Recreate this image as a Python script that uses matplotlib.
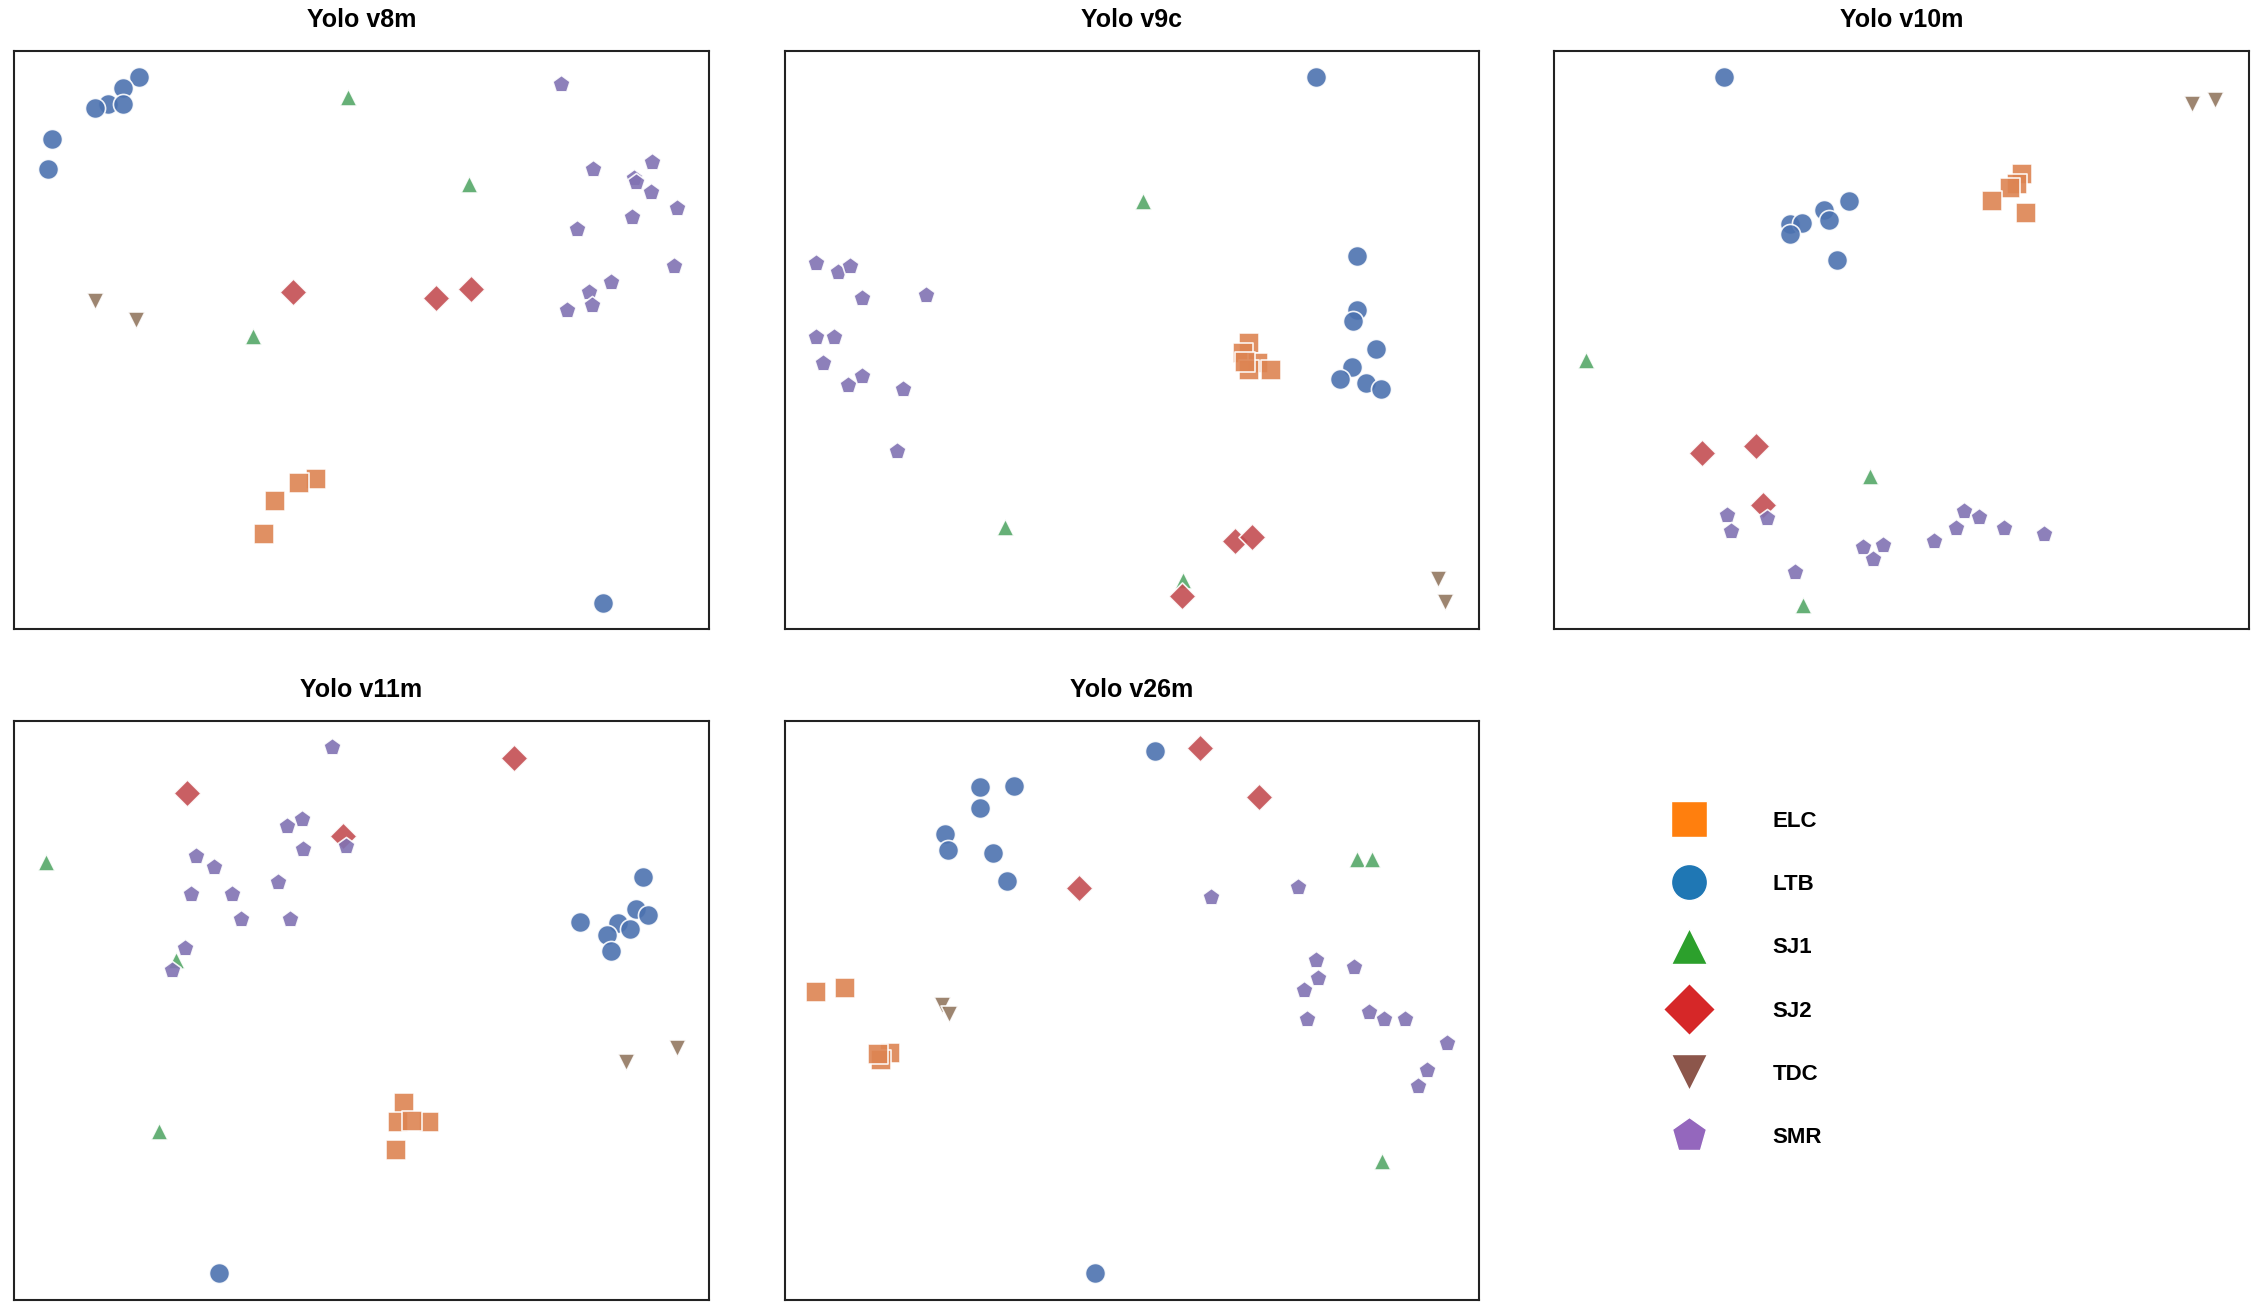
import matplotlib.pyplot as plt
from matplotlib.lines import Line2D

CLASSES = ["ELC", "LTB", "SJ1", "SJ2", "TDC", "SMR"]
MARKERS = {"ELC": "s", "LTB": "o", "SJ1": "^", "SJ2": "D", "TDC": "v", "SMR": "p"}
# muted colours for the points, bright ones for the legend
COLORS = {"ELC": "#DD8452", "LTB": "#4C72B0", "SJ1": "#55A868",
          "SJ2": "#C44E52", "TDC": "#937860", "SMR": "#8172B3"}
LEG_COLORS = {"ELC": "#ff7f0e", "LTB": "#1f77b4", "SJ1": "#2ca02c",
              "SJ2": "#d62728", "TDC": "#8c564b", "SMR": "#9467bd"}
SIZES = {"ELC": 190, "LTB": 210, "SJ1": 150, "SJ2": 190, "TDC": 150, "SMR": 170}

# embedding coordinates (0-100 per panel)
v8m = {
    "LTB": ([17.9, 15.6, 13.5, 11.6, 15.6, 5.4, 4.8, 84.8], [95.5, 93.5, 90.75, 90, 90.75, 84.75, 79.5, 4.5]),
    "SJ1": ([48, 65.5, 34.3], [92, 77, 50.75]),
    "SJ2": ([40.1, 60.7, 65.7], [58.25, 57.25, 58.75]),
    "TDC": ([11.6, 17.5], [56.75, 53.5]),
    "ELC": ([43.5, 41, 37.6, 36], [26, 25.25, 22.25, 16.5]),
    "SMR": ([78.8, 83.4, 91.9, 89.2, 89.6, 91.7, 95.4, 88.9, 81.1, 95, 85.9, 82.7, 79.6, 83.2],
            [94.25, 79.5, 80.75, 78, 77.25, 75.5, 72.75, 71.25, 69.25, 62.75, 60, 58.25, 55.25, 56]),
}
v9c = {
    "LTB": ([76.5, 82.5, 82.5, 81.9, 85.2, 81.7, 80, 83.8, 85.9], [95.5, 64.5, 55.25, 53.25, 48.5, 45.25, 43.25, 42.5, 41.5]),
    "SJ1": ([51.6, 31.8, 57.4], [74, 17.75, 8.5]),
    "SJ2": ([64.9, 67.4, 57.2], [15.25, 16, 5.75]),
    "TDC": ([94.2, 95.2], [8.75, 4.75]),
    "ELC": ([66.9, 66.1, 68.2, 70.1, 66.9, 66.3], [49.5, 47.75, 46, 44.75, 44.75, 46.25]),
    "SMR": ([4.6, 7.7, 9.4, 11.2, 20.4, 4.6, 7.1, 5.6, 9.1, 11.2, 17, 16.2],
            [63.25, 61.75, 62.75, 57.25, 57.75, 50.5, 50.5, 46, 42.25, 43.75, 41.5, 30.75]),
}
v10m = {
    "LTB": ([24.5, 33.9, 35.6, 33.9, 38.9, 39.5, 42.4, 40.7], [95.5, 70, 70.25, 68.25, 72.5, 70.75, 74, 63.75]),
    "SJ1": ([4.6, 45.5, 35.8], [46.5, 26.5, 4.25]),
    "SJ2": ([21.2, 29.1, 30.1], [30.5, 31.75, 21.5]),
    "TDC": ([91.9, 95.2], [90.75, 91.5]),
    "ELC": ([67.4, 66.7, 65.7, 63, 68], [78.75, 77, 76.25, 74, 72]),
    "SMR": ([24.9, 25.4, 30.6, 34.7, 44.5, 45.9, 47.4, 54.7, 57.8, 59, 61.1, 64.7, 70.5],
            [19.75, 17, 19.25, 10, 14.25, 12.25, 14.5, 15.25, 17.5, 20.5, 19.5, 17.5, 16.5]),
}
v11m = {
    "LTB": ([90.6, 89.6, 91.3, 81.5, 86.9, 88.7, 85.4, 85.9, 29.5], [73, 67.5, 66.5, 65.3, 65, 64, 63, 60.3, 4.5]),
    "SJ1": ([4.6, 23.3, 20.8], [75.6, 58.6, 29.2]),
    "SJ2": ([24.9, 71.9, 47.4], [87.5, 93.5, 80]),
    "TDC": ([88.1, 95.4], [41.1, 43.4]),
    "ELC": ([56.1, 55.3, 59.7, 54.9, 57.2], [33.9, 30.7, 30.7, 25.9, 30.9]),
    "SMR": ([45.7, 41.4, 39.3, 47.8, 41.6, 26.2, 28.7, 31.4, 25.4, 38, 32.6, 39.7, 24.5, 22.7],
            [95.5, 83, 81.8, 78.3, 77.8, 76.6, 74.8, 70.1, 70.1, 72.1, 65.8, 65.8, 60.8, 56.9]),
}
v26m = {
    "LTB": ([53.4, 28.1, 33.1, 28.1, 23.1, 23.5, 30.1, 32, 44.7], [94.8, 88.5, 88.8, 85, 80.5, 77.6, 77.1, 72.3, 4.5]),
    "SJ1": ([82.5, 84.6, 86.1], [76.1, 76.1, 23.9]),
    "SJ2": ([59.9, 68.4, 42.4], [95.3, 86.8, 71.1]),
    "TDC": ([22.7, 23.7], [50.9, 49.4]),
    "ELC": ([4.6, 8.7, 15.2, 13.9, 13.5], [53.1, 53.9, 42.6, 41.4, 42.4]),
    "SMR": ([61.5, 74, 76.5, 82.1, 76.9, 74.8, 84.2, 86.3, 89.4, 75.3, 95.5, 92.5, 91.3],
            [69.6, 71.3, 58.6, 57.4, 55.6, 53.4, 49.6, 48.4, 48.4, 48.4, 44.4, 39.6, 36.9]),
}

PANELS = [("Yolo v8m", v8m), ("Yolo v9c", v9c), ("Yolo v10m", v10m),
          ("Yolo v11m", v11m), ("Yolo v26m", v26m)]

fig = plt.figure(figsize=(22.61, 13.14), dpi=100)
plt.rcParams['font.family'] = ['Liberation Sans', 'DejaVu Sans']

lefts = [0.0064, 0.347, 0.6875]
bottoms = [0.521, 0.011]
w, h = 0.307, 0.4405

for i, (title, data) in enumerate(PANELS):
    ax = fig.add_axes([lefts[i % 3], bottoms[i // 3], w, h])
    for c in CLASSES:
        xs, ys = data[c]
        ax.scatter(xs, ys, marker=MARKERS[c], s=SIZES[c], c=COLORS[c],
                   alpha=0.9, edgecolors='white', linewidths=1.2)
    ax.set_xlim(0, 100)
    ax.set_ylim(0, 100)
    ax.set_xticks([])
    ax.set_yticks([])
    for sp in ax.spines.values():
        sp.set_linewidth(1.5)
        sp.set_color('#222222')
    ax.set_title(title, fontsize=18, fontweight='bold', pad=17)

handles = [Line2D([0], [0], marker=MARKERS[c], color='w', markerfacecolor=LEG_COLORS[c],
                  markeredgecolor='white', markersize=26, label=c)
           for c in CLASSES]
leg = fig.legend(handles=handles, loc='upper left', bbox_to_anchor=(0.731, 0.398),
                 frameon=False, fontsize=16, labelspacing=1.9, handletextpad=3.0,
                 handlelength=1.5)
for t in leg.get_texts():
    t.set_fontweight('bold')

fig.savefig("out.png", dpi=100)
